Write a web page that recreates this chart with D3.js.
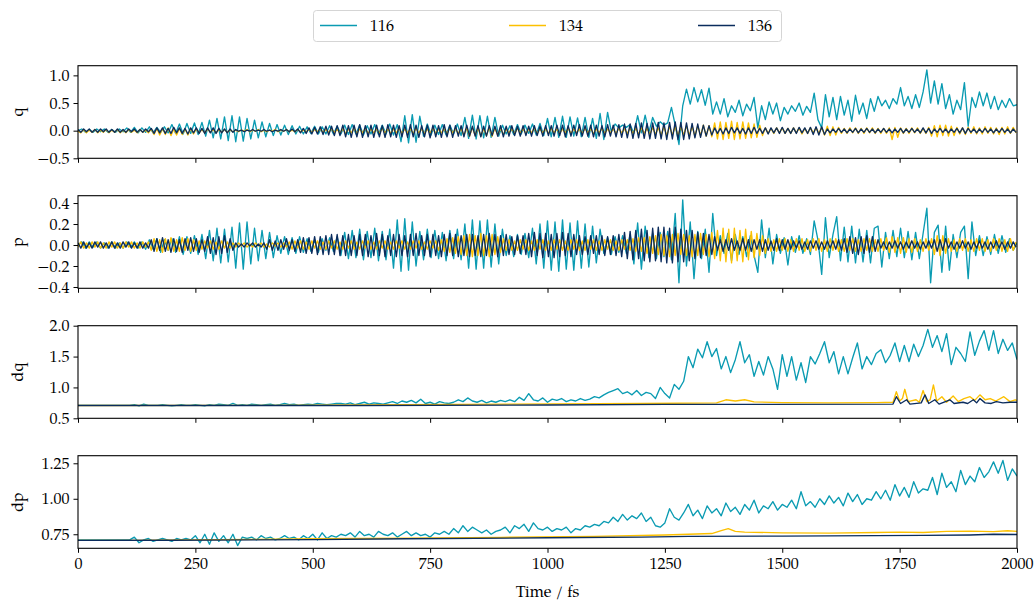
<!DOCTYPE html>
<html>
<head>
<meta charset="utf-8">
<script src="https://cdn.jsdelivr.net/npm/d3@7"></script>
<style>
	body { margin: 0; background: #ffffff; }
	text { font-family: "TeX Gyre Pagella", "Palatino Linotype", Palatino, "Liberation Serif", serif; fill: #000; }
</style>
</head>
<body>
<script>
// sampling steps (fs) of the stored traces
var STEP_116 = 8, STEP_OTHER = 6, STEP_D116 = 10;

var SERIES = ["116", "134", "136"];
var COLOURS = { "116": "#0a9bb2", "134": "#fcc000", "136": "#0b2c5d" };

var X_TICKS = [0, 250, 500, 750, 1000, 1250, 1500, 1750, 2000];

// q, values x100
var q_116 = [0,3,-3,2,-3,3,-2,3,-3,2,-3,3,-2,
	5,-3,6,-4,5,-3,7,-4,6,-3,7,-4,
	11,-5,12,-6,13,-5,14,-7,15,
	-10,19,-13,22,-15,
	25,-18,27,-20,25,-19,
	22,-15,19,-13,16,-11,
	13,-9,11,-8,10,-7,9,
	-6,8,-6,7,-5,8,-6,7,-6,9,-6,8,
	-6,10,-7,11,-6,10,-8,9,-6,11,-7,10,-6,12,-8,11,
	-20,27,-22,29,-21,26,
	-10,12,-8,10,-7,11,-8,10,-6,12,-9,
	24,-14,28,-15,27,-13,26,-12,24,-10,
	10,-6,9,-7,11,-6,10,-5,12,-8,13,-9,
	22,-11,24,-12,26,-12,25,-10,23,-11,24,-12,22,
	-14,31,-16,33,
	-2,12,5,10,6,11,
	-5,27,-4,28,-3,24,
	8,16,10,14,42,10,-25,45,75,48,78,52,74,46,77,30,
	52,30,58,25,45,33,55,27,48,36,60,
	5,45,20,52,30,50,18,
	42,30,45,35,50,28,44,33,
	68,20,5,65,25,60,
	20,62,28,55,17,64,30,50,22,58,
	35,62,45,55,40,58,48,
	78,45,62,40,65,42,70,110,50,90,48,85,40,65,30,55,38,87,8,60,42,70,45,68,40,62,38,55,42,58,45,47];

var q_134 = [-1,-4,2,-4,1,-3,2,-4,1,-3,2,-4,1,-3,2,-4,1,-4,2,-3,1,-4,2,-3,1,-4,
	3,-7,4,-8,4,-7,5,-9,3,-8,4,-7,3,-8,4,-6,3,
	-4,2,-4,3,-3,2,-4,2,-3,2,-3,1,-2,
	1,-2,1,-1,2,-2,1,-1,2,-2,1,-2,1,-1,2,-2,1,-1,2,-2,1,-2,2,-2,1,-2,2,-3,2,-2,3,-3,2,-3,3,-3,2,
	-4,3,-5,3,-4,4,-5,3,-4,4,-5,3,-4,3,-5,4,-4,3,-5,3,-4,4,-5,3,-4,3,-5,4,-4,3,-5,3,-4,4,-5,3,-4,3,-5,4,-4,3,-5,4,
	-9,5,-10,6,-9,5,-10,4,-9,6,-10,5,-8,4,-7,3,
	-4,3,-5,4,-4,3,-5,3,-4,4,-5,3,-4,3,-5,4,-4,3,-5,3,-4,4,-5,3,-4,3,-5,4,-4,3,-5,3,-4,4,-5,3,-4,3,-5,4,
	-4,3,-5,4,-5,4,-6,5,-5,4,-6,5,-6,5,
	-8,7,-9,8,-8,7,-9,8,-8,9,-9,8,-10,9,-9,10,-10,9,-11,
	14,-15,16,-16,15,-14,17,-16,15,-15,16,-14,14,-13,12,-12,10,-9,
	5,-5,4,-5,5,-4,5,-5,4,-5,5,-4,5,-6,4,-5,5,-4,5,-5,6,
	-8,8,-9,7,-8,6,
	-5,4,-5,5,-4,5,-5,4,-5,5,-4,5,-5,4,-5,4,-5,5,
	-16,6,-12,
	5,-5,4,-5,5,-4,5,-5,4,-5,6,
	-10,9,-11,10,-9,10,-10,8,-9,
	6,-6,5,-7,6,-5,7,-6,5,-6,7,-5,6,-6,5,-7,6,-6,7,-5,6,-4];

var q_136 = [2,-3,3,-2,3,-3,2,-3,3,-2,3,-3,2,-3,3,-3,2,-3,3,-2,3,-3,2,-3,3,-2,
	4,-5,5,-4,5,-5,4,-5,6,-4,5,-5,4,-6,5,-4,5,-5,4,-5,5,-4,5,-5,4,-4,3,-4,3,-3,
	2,-1,1,-2,1,-1,2,-1,1,-1,2,-1,1,-2,1,-1,2,-1,2,-2,3,-2,3,
	-4,4,-5,5,-6,6,-6,7,-7,8,-8,8,-9,9,-9,
	10,-11,9,-12,10,-11,11,-12,9,-11,10,-12,10,-11,9,-12,11,-11,10,-12,
	9,-11,10,-12,11,-11,10,-12,9,-11,10,-13,10,-11,9,-12,11,-11,10,-12,
	9,-10,9,-11,10,-10,8,-10,9,-11,8,-10,9,-9,8,-10,9,-11,8,-10,
	9,-9,8,-10,9,-9,8,-10,9,-9,8,-10,9,
	-9,9,-10,10,-9,10,-11,9,-10,10,-9,11,-10,9,-10,10,-11,10,-10,9,-11,11,-10,10,-11,11,-12,
	12,-13,12,-14,13,-13,14,-14,13,-15,14,-14,15,-15,14,-16,15,-15,16,-16,15,
	-16,14,-15,13,-13,12,-12,10,-10,9,-8,
	5,-5,4,-6,5,-5,6,-4,5,-5,4,-6,5,-5,6,-5,4,-5,5,-6,5,-4,5,-5,6,-5,4,-5,5,-5,6,-4,5,-5,6,
	-7,7,-8,7,-7,
	3,-4,3,-3,4,-3,3,-4,3,-3,4,-4,3,-3,4,-3,3,-4,3,-3,4,-3,3,-4,3,-3,4,-4,3,-3,4,-3,3,-4,5,-4,4,-5,3,-3,
	4,-3,3,-4,3,-3,4,-4,5,-5,4,-3,3,-4,3,-3,4,-3,3,-4,3,-3,4,-3,3,-4,3,-3];

// p, values x100
var p_116 = [0,3,-3,3,-2,3,-3,2,-3,3,-3,2,-3,3,-2,3,-3,3,-4,
	5,-4,6,-7,5,-5,6,
	-7,8,-9,8,-8,9,-9,10,
	-13,14,-15,16,-17,15,-16,17,
	-22,21,-23,22,
	-18,16,-15,14,-13,12,-12,
	9,-8,8,-9,7,-8,8,-7,
	6,-6,5,-7,6,-5,7,-6,8,
	-10,12,-13,14,-12,15,-14,13,-12,16,-15,13,-14,15,
	-22,24,-25,25,-24,22,-20,
	13,-14,15,-12,14,-13,12,-15,14,-13,15,-14,
	20,-22,24,-23,23,-22,24,-21,20,-18,15,
	-10,9,-11,10,-9,11,-12,
	16,-18,20,-22,23,-24,22,-25,24,-23,21,-24,23,-22,20,-21,18,-17,15,
	-8,7,-9,8,-7,9,-8,10,
	-18,21,-23,18,
	-12,11,-13,12,-11,13,-14,
	30,-36,43,-20,22,-32,
	13,-13,15,-26,30,
	-10,9,-8,11,-15,10,-9,8,-11,9,-10,
	-26,24,-12,16,-18,10,-8,
	7,-19,8,-7,9,-8,6,-9,
	23,5,-28,26,-12,10,27,-15,
	17,-16,18,-17,15,-16,14,-17,16,18,
	-21,
	12,-13,14,-11,16,-12,13,-14,12,-13,11,
	35,-36,12,19,-26,18,-24,10,-12,12,18,-32,22,-10,
	9,-10,8,-9,10,-8,9,-7,6,-5,2];

var p_134 = [-2,3,-3,2,-3,3,-2,3,-3,2,-3,3,-2,3,-3,2,-3,3,-2,3,-3,2,-3,3,-2,3,
	-5,6,-6,5,-7,6,-5,7,-6,5,-6,7,-5,6,-6,5,-5,4,
	-4,4,-3,4,-4,3,-4,4,-3,3,-3,2,
	-2,2,-1,2,-2,1,-2,2,-1,2,-2,1,-2,2,-1,2,-2,2,-2,3,
	-4,4,-3,4,-4,3,-4,4,-3,4,-4,3,-4,4,-3,4,-4,3,-4,4,-3,4,-4,3,-4,4,-3,4,-4,3,
	-4,4,-3,4,-4,3,-4,4,-3,4,-4,3,-4,4,-3,4,-4,3,-4,4,-3,4,-5,5,-6,6,-7,7,-8,8,-9,9,
	-10,10,-11,9,-10,11,-10,9,-11,10,-9,8,-7,6,-5,
	5,-5,4,-5,5,-4,5,-5,4,-5,5,-4,5,-5,4,-5,5,-4,5,-5,4,-5,5,-4,5,-5,4,-5,5,-4,
	5,-5,4,-5,5,-4,5,-5,4,-5,5,-4,5,-5,6,-6,7,-6,7,-8,8,-8,9,-9,
	10,-10,9,-11,10,-10,11,-9,10,-10,9,-11,10,-10,11,-9,10,-11,12,-13,
	14,-15,16,-16,15,-17,16,-15,14,-16,15,-14,13,-12,11,-10,9,-8,
	6,-6,5,-6,6,-5,6,-6,5,-6,6,-5,6,-6,5,-6,6,-5,6,-6,5,-6,6,-5,6,-6,5,-6,6,-5,
	6,-6,5,-6,6,-5,6,-6,5,-6,6,-5,
	7,-7,8,-7,7,-8,7,-7,6,-7,
	6,-6,5,-6,6,-5,6,
	-9,9,-10,9,-8,
	6,-6,5,-6,6,-5,6,-6,5,-6,6,-5,6,-6,5,-6,6,-5,6,-6,5,-6,6,-5,3];

var p_136 = [2,-3,3,-3,2,-3,3,-2,3,-3,2,-3,3,-3,2,-3,3,-2,3,-3,2,-3,3,-3,2,-3,
	5,-6,6,-5,7,-6,5,-7,6,-6,5,-7,6,-5,7,-6,6,-7,5,-6,
	8,-8,7,-9,8,-8,9,-7,6,-5,
	2,-2,1,-2,2,-1,2,-2,1,-2,2,
	-4,5,-5,4,-5,5,-4,6,-5,5,-6,5,
	-7,7,-8,7,-8,8,-9,8,-9,9,-9,10,-9,10,-10,9,-10,10,-10,9,-10,10,
	-10,10,-11,9,-10,11,-10,10,-11,9,-10,10,-11,10,-10,9,-11,10,-10,11,
	-10,9,-10,10,-11,10,-10,9,-11,10,-10,11,-10,10,-11,9,-10,10,-11,10,
	-10,9,-11,10,-10,11,-10,10,-11,9,-10,10,
	-9,8,-9,9,-8,9,-9,
	11,-11,12,-10,11,-12,11,-11,10,-12,11,-11,12,-10,11,-11,10,
	-9,9,-9,8,-9,9,-8,9,-9,9,-10,8,-9,9,-10,10,-11,
	12,-13,13,-14,14,-13,15,-15,14,-16,16,-15,17,-16,17,-17,16,-17,17,-16,
	15,-16,14,-15,14,-13,12,-12,11,-10,10,-9,8,
	-5,5,-6,5,-5,6,-5,4,-5,6,-5,5,-6,5,-4,5,-6,5,-5,4,-5,6,-5,5,-4,5,
	-4,4,-3,4,-4,3,-4,4,-3,4,-4,3,-4,4,-3,4,-4,5,-5,6,
	-7,8,-8,7,-9,8,-8,9,-7,8,-6,5,
	-3,3,-4,3,-3,4,-3,3,-4,3,-3,4,-3,3,-4,3,-3,4,-3,
	5,-6,5,-5,6,
	-3,3,-4,3,-3,4,-3,3,-4,3,-3,4,-3,3,-4,3,-3,4,-3,3,-4,3,-3,3,-2];

// dq, values x100 (116) and [time, value] pairs (134, 136)
var dq_116 = [71,71,71,71,71,71,71,71,71,71,71,71,
	72,70,73,71,
	71,71,72,71,70,71,72,71,71,72,71,70,72,71,73,72,71,
	74,71,
	72,71,73,72,71,72,73,71,72,74,72,73,71,72,73,72,74,73,72,73,74,
	74,73,75,72,74,76,73,75,74,73,
	75,77,74,78,76,79,75,81,
	74,76,73,77,75,74,76,
	80,77,83,78,
	76,79,75,78,76,79,77,
	80,77,84,79,90,
	80,78,83,76,81,79,82,77,80,78,82,79,81,
	85,83,88,
	92,95,98,
	90,93,88,95,87,92,90,
	82,100,90,83,105,97,110,150,132,162,
	148,174,150,163,130,150,124,145,174,140,
	153,118,142,120,150,130,97,153,118,150,
	112,140,108,150,138,155,174,140,158,122,
	150,122,148,172,130,150,137,155,161,140,
	152,172,142,168,142,170,150,168,194,165,
	184,158,187,137,165,155,142,190,152,175,
	192,160,192,155,178,160,172,145];

var dq_134 = [[0,0.707],[400,0.71],[800,0.725],[1200,0.74],[1360,0.75],[1380,0.80],[1400,0.78],[1420,0.80],
	[1440,0.765],[1500,0.755],[1600,0.75],[1700,0.755],[1736,0.76],[1743,0.93],[1750,0.78],[1756,0.82],
	[1761,0.97],[1768,0.77],[1785,0.80],[1792,0.76],[1800,0.95],[1808,0.77],[1815,0.80],[1822,1.04],
	[1829,0.78],[1840,0.85],[1850,0.76],[1864,0.86],[1875,0.77],[1887,0.82],[1900,0.85],[1910,0.79],
	[1921,0.88],[1932,0.80],[1943,0.82],[1955,0.78],[1972,0.85],[1985,0.77],[1996,0.80],[2000,0.79]];

var dq_136 = [[0,0.707],[600,0.707],[1000,0.715],[1250,0.725],[1400,0.725],[1736,0.73],[1743,0.85],[1752,0.74],
	[1765,0.80],[1772,0.73],[1796,0.75],[1804,0.88],[1812,0.74],[1825,0.80],[1834,0.73],[1857,0.80],
	[1866,0.74],[1885,0.76],[1895,0.74],[1907,0.80],[1914,0.75],[1921,0.82],[1932,0.75],[1945,0.74],
	[1956,0.77],[1970,0.75],[1985,0.76],[2000,0.76]];

// dp, values x100 (116) and [time, value] pairs (134, 136)
var dp_116 = [71,71,71,71,71,71,71,71,71,71,71,71,
	73,69,
	71,72,70,71,72,71,70,72,71,72,71,
	74,69,75,68,76,70,74,69,75,67,73,
	72,73,71,74,72,73,71,72,74,72,
	73,71,74,72,75,71,76,72,74,73,75,
	74,76,73,77,74,75,73,77,75,74,76,73,75,77,74,76,74,75,73,76,75,
	77,75,79,76,81,77,80,78,
	76,78,75,77,
	78,80,76,81,79,82,77,83,79,78,80,
	77,79,78,80,76,79,78,81,
	80,82,81,84,
	83,87,84,89,85,88,86,90,84,87,
	81,80,83,93,87,
	85,90,96,
	88,92,86,95,90,93,88,97,91,94,
	89,96,92,99,90,95,93,98,92,96,
	94,99,93,105,95,98,94,100,96,102,
	97,101,95,104,98,103,96,100,99,105,
	100,106,99,110,102,108,101,112,104,107,
	106,115,103,118,108,112,105,120,110,116,
	112,122,115,119,126,118,127,113,121,116];

var dp_134 = [[0,0.707],[120,0.707],[300,0.712],[500,0.718],[700,0.722],[900,0.728],[1100,0.735],[1250,0.745],
	[1300,0.75],[1350,0.755],[1370,0.775],[1385,0.79],[1400,0.77],[1420,0.765],[1500,0.76],[1600,0.758],
	[1700,0.762],[1750,0.765],[1800,0.762],[1850,0.77],[1900,0.772],[1950,0.768],[1980,0.775],[2000,0.77]];

var dp_136 = [[0,0.707],[200,0.708],[500,0.712],[700,0.718],[1000,0.725],[1200,0.73],[1300,0.735],
	[1500,0.737],[1700,0.74],[1800,0.742],[1900,0.745],[1950,0.75],[2000,0.748]];

// turn the stored traces into [t, v] points
function stepped(values, step) {
	var pts = [];
	for (var i = 0; i < values.length; i++) {
		pts.push([i * step, values[i] / 100]);
	}
	return pts;
}

var panels = [
	{ label: "q", domain: [-0.5, 1.175], ticks: [-0.5, 0, 0.5, 1.0], fmt: ".1f",
	  data: { "116": stepped(q_116, STEP_116), "134": stepped(q_134, STEP_OTHER), "136": stepped(q_136, STEP_OTHER) } },
	{ label: "p", domain: [-0.4125, 0.47], ticks: [-0.4, -0.2, 0, 0.2, 0.4], fmt: ".1f",
	  data: { "116": stepped(p_116, STEP_116), "134": stepped(p_134, STEP_OTHER), "136": stepped(p_136, STEP_OTHER) } },
	{ label: "dq", domain: [0.5, 2.0], ticks: [0.5, 1.0, 1.5, 2.0], fmt: ".1f",
	  data: { "116": stepped(dq_116, STEP_D116), "134": dq_134, "136": dq_136 } },
	{ label: "dp", domain: [0.651, 1.3035], ticks: [0.75, 1.0, 1.25], fmt: ".2f",
	  data: { "116": stepped(dp_116, STEP_D116), "134": dp_134, "136": dp_136 } }
];

var width = 1036, height = 602;
var left = 78, right = 1017;
var top0 = 65.7, panel_h = 92.6, panel_gap = 130;

var svg = d3.select("body").append("svg")
	.attr("width", width)
	.attr("height", height);

var x = d3.scaleLinear().domain([0, 2000]).range([left, right]);

panels.forEach(function(panel, k) {
	var ptop = top0 + k * panel_gap;
	var y = d3.scaleLinear().domain(panel.domain).range([ptop + panel_h, ptop]);

	var g = svg.append("g");

	g.append("clipPath")
		.attr("id", "clip" + k)
		.append("rect")
		.attr("x", left).attr("y", ptop)
		.attr("width", right - left).attr("height", panel_h);

	var line = d3.line()
		.x(function(d) { return x(d[0]); })
		.y(function(d) { return y(d[1]); });

	SERIES.forEach(function(s) {
		g.append("path")
			.datum(panel.data[s])
			.attr("clip-path", "url(#clip" + k + ")")
			.attr("fill", "none")
			.attr("stroke", COLOURS[s])
			.attr("stroke-width", 1.35)
			.attr("stroke-linejoin", "round")
			.attr("d", line);
	});

	// x axis (labels only on the last panel)
	var xAxis = d3.axisBottom(x).tickValues(X_TICKS).tickSize(4.5).tickPadding(5)
		.tickFormat(d3.format("d"));
	if (k < panels.length - 1) xAxis.tickFormat("");
	var xg = g.append("g")
		.attr("transform", "translate(0," + (ptop + panel_h) + ")")
		.call(xAxis);

	var yAxis = d3.axisLeft(y).tickValues(panel.ticks).tickSize(4.5).tickPadding(4)
		.tickFormat(d3.format(panel.fmt));
	var yg = g.append("g")
		.attr("transform", "translate(" + left + ",0)")
		.call(yAxis);

	[xg, yg].forEach(function(a) {
		a.select(".domain").remove();
		a.selectAll("line").attr("stroke", "#000").attr("stroke-width", 1);
		a.selectAll("text").style("font-size", "16px").attr("fill", "#000")
			.style("font-family", '"TeX Gyre Pagella", "Palatino Linotype", Palatino, "Liberation Serif", serif');
	});

	g.append("rect")
		.attr("x", left).attr("y", ptop)
		.attr("width", right - left).attr("height", panel_h)
		.attr("fill", "none")
		.attr("stroke", "#000")
		.attr("stroke-width", 1.1);

	g.append("text")
		.attr("transform", "translate(23," + (ptop + panel_h / 2) + ") rotate(-90)")
		.attr("text-anchor", "middle")
		.style("font-size", "16px")
		.text(panel.label);
});

svg.append("text")
	.attr("x", (left + right) / 2)
	.attr("y", 597)
	.attr("text-anchor", "middle")
	.style("font-size", "16px")
	.text("Time / fs");

// legend
var legend = svg.append("g");
legend.append("rect")
	.attr("x", 313.5).attr("y", 10.5)
	.attr("width", 468).attr("height", 31)
	.attr("rx", 3)
	.attr("fill", "#fff")
	.attr("stroke", "#d5d5d5")
	.attr("stroke-width", 1);

SERIES.forEach(function(s, i) {
	var lx = 320 + i * 189;
	legend.append("line")
		.attr("x1", lx).attr("x2", lx + 37)
		.attr("y1", 25.5).attr("y2", 25.5)
		.attr("stroke", COLOURS[s])
		.attr("stroke-width", 1.35);
	legend.append("text")
		.attr("x", lx + 50)
		.attr("y", 25.5)
		.attr("dy", "0.35em")
		.style("font-size", "16px")
		.text(s);
});
</script>
</body>
</html>
